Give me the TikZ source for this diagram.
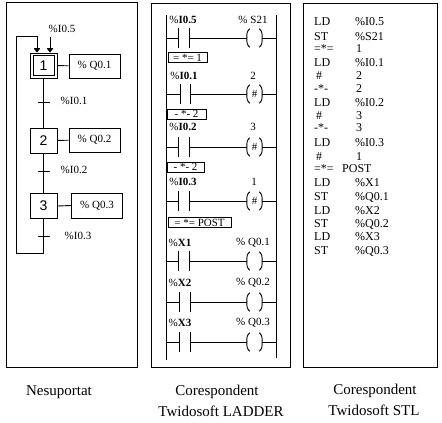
\documentclass[tikz,border=0pt]{standalone}
\usepackage{fontspec}
\setmainfont{Liberation Serif}
\newfontfamily\stepfont{Liberation Sans}
\usetikzlibrary{arrows.meta}
\newcommand{\contactbars}[1]{\draw[wire] (#1.north west) -- (#1.south west) (#1.north east) -- (#1.south east);}
\newcommand{\coilmarks}[1]{\draw[wire] ([xshift=3pt]#1.north west) to[out=215,in=90] (#1.west) to[out=-90,in=145] ([xshift=3pt]#1.south west)
  ([xshift=-3pt]#1.north east) to[out=-35,in=90] (#1.east) to[out=-90,in=35] ([xshift=-3pt]#1.south east);}

\begin{document}
\begin{tikzpicture}[
  x=1pt,y=-1pt,
  wire/.style={black,line width=0.9pt},
  panel/.style={black,line width=1pt},
  stepbox/.style={draw,wire,minimum width=27pt,minimum height=25pt,inner sep=0pt,font=\stepfont\fontsize{14}{14}\selectfont},
  stepin/.style={stepbox,minimum width=21pt,minimum height=20pt},
  action/.style={draw,wire,minimum width=51pt,minimum height=24pt,inner sep=0pt,font=\fontsize{11}{11}\selectfont},
  tlabel/.style={inner sep=0pt,font=\fontsize{11}{11}\selectfont},
  jumpbox/.style={draw,wire,minimum height=10pt,inner sep=0pt,font=\fontsize{11}{11}\selectfont},
  contact/.style={minimum width=10pt,minimum height=19pt,inner sep=0pt},
  coil/.style={minimum width=15pt,minimum height=18pt,inner sep=0pt,font=\fontsize{11}{11}\selectfont},
  stl/.style={anchor=west,inner sep=0pt,font=\fontsize{12}{12}\selectfont},
  caption/.style={inner sep=0pt,font=\fontsize{15}{15}\selectfont},
  entry/.style={wire,-{Bar[width=6pt,line width=1pt,sep=0pt]Triangle[length=4pt,width=6pt]}}
]
\useasboundingbox (0,0) rectangle (442,423);

% Panels
\draw[panel] (6,2.5) rectangle (137,367);
\draw[panel] (151,3) rectangle (290,367);
\draw[panel] (303,3) rectangle (437,367);

% Grafcet
\node[stepbox] (s1) at (43.5,65.5) {};
\node[stepin]  (s1i) at (43.5,65.5) {1};
\node[stepbox] (s2) at (43.5,140.5) {2};
\node[stepbox] (s3) at (43.5,206) {3};
\node[action] (a1) at (94.5,66) {\% Q0.1};
\node[action] (a2) at (94.5,140) {\% Q0.2};
\node[action,minimum height=25pt] (a3) at (97,205.5) {\% Q0.3};
\draw[wire] (s1) -- (a1);
\draw[wire] (s2) -- (a2);
\draw[wire] (s3.east) -- (a3.west);
\draw[wire] (s1) -- (s2);
\draw[wire] (s2) -- (s3);
\coordinate (t1) at (43.5,102);
\coordinate (t2) at (43.5,171);
\coordinate (t3) at (43.5,236);
\draw[wire] ([xshift=-6pt]t1) -- ([xshift=6pt]t1);
\draw[wire] ([xshift=-6pt]t2) -- ([xshift=6pt]t2);
\draw[wire] ([xshift=-6pt]t3) -- ([xshift=6pt]t3);
\node[tlabel] (lt0) at (62,29) {\%I0.5};
\node[tlabel] (lt1) at (74,101) {\%I0.1};
\node[tlabel] (lt2) at (74,170) {\%I0.2};
\node[tlabel] (lt3) at (78,236) {\%I0.3};
\coordinate (lb) at (43.5,253);
\coordinate (lc) at (16,253);
\coordinate (ld) at (16,36);
\coordinate (le) at (37,36);
\draw[entry] (s3.south) -- (lb) -- (lc) -- (ld) -- (le) -- (le |- s1.north);
\coordinate (ent) at (50,37);
\draw[entry] (ent) -- (ent |- s1.north);

% Ladder rails
\coordinate (railtl) at (166,15);
\coordinate (railbl) at (166,360);
\coordinate (railtr) at (276,15);
\coordinate (railbr) at (276,358);
\draw[wire] (railtl) -- (railbl);
\draw[wire] (railtr) -- (railbr);

% Rungs
\node[contact] (ca1) at (184,38) {};
\node[coil] (co1) at (254.5,38) {};
\draw[wire] (railtl |- ca1) -- (ca1.west) (ca1.east) -- (co1.west) (co1.east) -- (railtr |- co1);
\contactbars{ca1}\coilmarks{co1}
\node[tlabel] (ll1) at (183,20) {\%\textbf{I0.5}};
\node[tlabel] (lr1) at (253,20) {\% S21};
\node[jumpbox,minimum width=39pt] (j1) at (187.5,57.5) {= *= 1};

\node[contact] (ca2) at (185.5,94) {};
\node[coil] (co2) at (254.5,94) {\#};
\draw[wire] (railtl |- ca2) -- (ca2.west) (ca2.east) -- (co2.west) (co2.east) -- (railtr |- co2);
\contactbars{ca2}\coilmarks{co2}
\node[tlabel] (ll2) at (184,76) {\%\textbf{I0.1}};
\node[tlabel] (lr2) at (253,76) {2};
\node[jumpbox,minimum width=39pt] (j2) at (186.5,114) {- *- 2};

\node[contact] (ca3) at (184,147) {};
\node[coil] (co3) at (254.5,147) {\#};
\draw[wire] (railtl |- ca3) -- (ca3.west) (ca3.east) -- (co3.west) (co3.east) -- (railtr |- co3);
\contactbars{ca3}\coilmarks{co3}
\node[tlabel] (ll3) at (183,127) {\%\textbf{I0.2}};
\node[tlabel] (lr3) at (253,127) {3};
\node[jumpbox,minimum width=37pt] (j3) at (185.5,167) {- *- 2};

\node[contact] (ca4) at (184,201) {};
\node[coil] (co4) at (254.5,201) {\#};
\draw[wire] (railtl |- ca4) -- (ca4.west) (ca4.east) -- (co4.west) (co4.east) -- (railtr |- co4);
\contactbars{ca4}\coilmarks{co4}
\node[tlabel] (ll4) at (183,182) {\%\textbf{I0.3}};
\node[tlabel] (lr4) at (254,182) {1};
\node[jumpbox,minimum width=63pt] (j4) at (199.5,222.5) {= *= POST};

\node[contact] (ca5) at (184,261) {};
\node[coil] (co5) at (254.5,261) {};
\draw[wire] (railtl |- ca5) -- (ca5.west) (ca5.east) -- (co5.west) (co5.east) -- (railtr |- co5);
\contactbars{ca5}\coilmarks{co5}
\node[tlabel] (ll5) at (180,243) {\%\textbf{X1}};
\node[tlabel] (lr5) at (253,243) {\% Q0.1};

\node[contact] (ca6) at (185,302) {};
\node[coil] (co6) at (254.5,302) {};
\draw[wire] (railtl |- ca6) -- (ca6.west) (ca6.east) -- (co6.west) (co6.east) -- (railtr |- co6);
\contactbars{ca6}\coilmarks{co6}
\node[tlabel] (ll6) at (180,283) {\%\textbf{X2}};
\node[tlabel] (lr6) at (253,283) {\% Q0.2};

\node[contact] (ca7) at (185,342) {};
\node[coil] (co7) at (254.5,342) {};
\draw[wire] (railtl |- ca7) -- (ca7.west) (ca7.east) -- (co7.west) (co7.east) -- (railtr |- co7);
\contactbars{ca7}\coilmarks{co7}
\node[tlabel] (ll7) at (180,323) {\%\textbf{X3}};
\node[tlabel] (lr7) at (253,323) {\% Q0.3};

% Instruction list
\node[stl] (i1)  at (314,22)  {LD};    \node[stl] (o1)  at (355,22)  {\%I0.5};
\node[stl] (i2)  at (314,37)  {ST};    \node[stl] (o2)  at (355,37)  {\%S21};
\node[stl] (i3)  at (314,49)  {=*=};   \node[stl] (o3)  at (356,49)  {1};
\node[stl] (i4)  at (314,63)  {LD};    \node[stl] (o4)  at (355,63)  {\%I0.1};
\node[stl] (i5)  at (316,76)  {\#};    \node[stl] (o5)  at (356,76)  {2};
\node[stl] (i6)  at (314,89)  {-*-};   \node[stl] (o6)  at (356,89)  {2};
\node[stl] (i7)  at (314,103) {LD};    \node[stl] (o7)  at (355,103) {\%I0.2};
\node[stl] (i8)  at (316,116) {\#};    \node[stl] (o8)  at (356,116) {3};
\node[stl] (i9)  at (314,128) {-*-};   \node[stl] (o9)  at (356,128) {3};
\node[stl] (i10) at (314,143) {LD};    \node[stl] (o10) at (355,143) {\%I0.3};
\node[stl] (i11) at (316,157) {\#};    \node[stl] (o11) at (356,157) {1};
\node[stl] (i12) at (314,169) {=*=};   \node[stl] (o12) at (342,169) {POST};
\node[stl] (i13) at (314,183) {LD};    \node[stl] (o13) at (355,183) {\%X1};
\node[stl] (i14) at (314,197) {ST};    \node[stl] (o14) at (355,197) {\%Q0.1};
\node[stl] (i15) at (314,211) {LD};    \node[stl] (o15) at (355,211) {\%X2};
\node[stl] (i16) at (314,224) {ST};    \node[stl] (o16) at (355,224) {\%Q0.2};
\node[stl] (i17) at (314,237) {LD};    \node[stl] (o17) at (355,237) {\%X3};
\node[stl] (i18) at (314,251) {ST};    \node[stl] (o18) at (355,251) {\%Q0.3};

% Captions
\node[caption] (c1) at (59,392) {Nesuportat};
\node[caption] (c2) at (217,392) {Corespondent};
\node[caption] (c3) at (221,411) {Twidosoft LADDER};
\node[caption] (c4) at (375,391) {Corespondent};
\node[caption] (c5) at (374,410) {Twidosoft STL};
\end{tikzpicture}
\end{document}
